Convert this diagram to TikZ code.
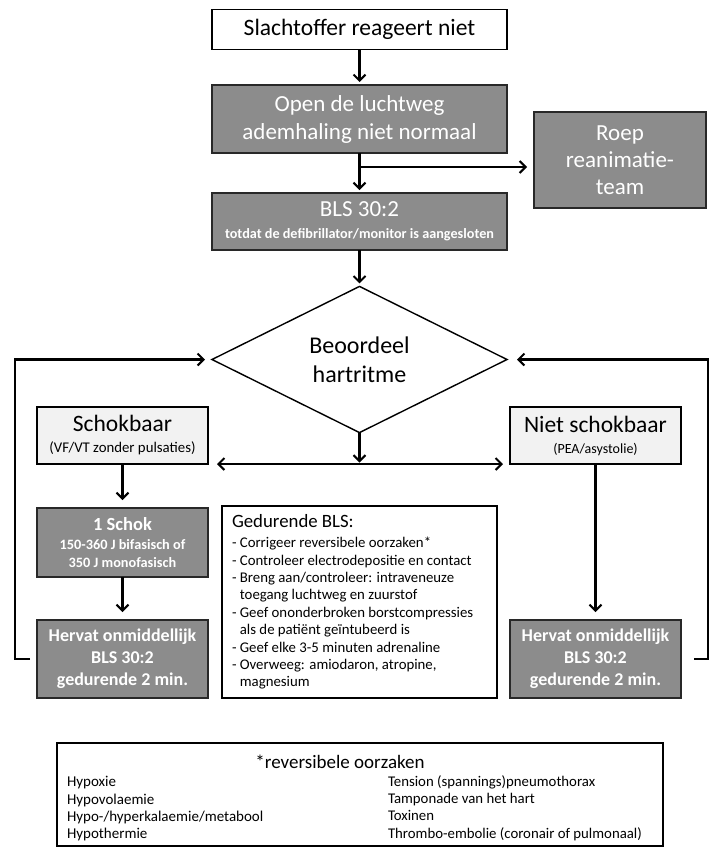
\documentclass[tikz,border=0pt]{standalone}
\usepackage{fontspec}
\setmainfont{Carlito}
\usetikzlibrary{arrows.meta,shapes.geometric,calc}
\definecolor{boxgray}{RGB}{140,140,140}
\definecolor{lightfill}{RGB}{242,242,242}
\definecolor{edgegray}{RGB}{40,40,40}
\newcommand\myfs[2]{\fontsize{#1}{#2}\selectfont}
\begin{document}
\begin{tikzpicture}[x=1pt,y=-1pt,
  every node/.style={inner sep=0pt, outer sep=0pt},
  graybox/.style={draw=edgegray, line width=1.4pt, fill=boxgray, text=white, align=center},
  whitebox/.style={draw=black, line width=1.4pt, fill=white, align=center},
  lightbox/.style={draw=black, line width=1.4pt, fill=lightfill, align=center},
  tip/.tip={Straight Barb[length=6pt,width=12pt,line width=2pt]},
  conn/.style={line width=2.3pt, -tip},
]
\useasboundingbox (0,0) rectangle (720,857);

\node[whitebox, minimum width=295pt, minimum height=40pt, font=\myfs{23.5}{28}] (victim) at (359.5,29.5) {Slachtoffer reageert niet};
\node[graybox, minimum width=295pt, minimum height=68pt, font=\myfs{23}{28}] (airway) at (359.5,119) {Open de luchtweg\\ademhaling niet normaal};
\node[graybox, minimum width=295pt, minimum height=57pt, font=\myfs{23}{22}] (bls) at (359.5,221.5) {BLS 30:2\\{\myfs{14.2}{16}\bfseries totdat de defibrillator/monitor is aangesloten}};
\node[graybox, minimum width=172pt, minimum height=96pt, font=\myfs{23}{27}] (team) at (620,160) {Roep\\reanimatie-\\team};

\node[draw=black, diamond, line width=1.4pt, minimum width=295pt, minimum height=135pt, align=center, font=\myfs{24}{29}] (rhythm) at (359.5,359.5) {Beoordeel\\hartritme};

\node[lightbox, minimum width=171pt, minimum height=57pt, font=\myfs{23.5}{21}] (shock) at (122.5,435.5) {Schokbaar\\{\myfs{14.8}{17}(VF/VT zonder pulsaties)}};
\node[lightbox, minimum width=171pt, minimum height=57pt, font=\myfs{23.5}{21}] (nonshock) at (595.5,435.5) {Niet schokbaar\\{\myfs{14}{17}(PEA/asystolie)}};

\node[graybox, minimum width=171pt, minimum height=69pt, font=\bfseries\myfs{18.5}{19}] (schok) at (122.5,542.5) {1 Schok\\{\myfs{14.3}{17.5}150-360 J bifasisch of}\\[-1.5pt]{\myfs{14.3}{17.5}350 J monofasisch}};
\node[graybox, minimum width=171pt, minimum height=78pt, font=\bfseries\myfs{18}{22}] (resumeL) at (122.5,659) {Hervat onmiddellijk\\BLS 30:2\\gedurende 2 min.};
\node[graybox, minimum width=171pt, minimum height=78pt, font=\bfseries\myfs{18}{22}] (resumeR) at (595.5,659) {Hervat onmiddellijk\\BLS 30:2\\gedurende 2 min.};

\node[whitebox, minimum width=275pt, minimum height=192pt] (during) at (359.5,602) {};
\node[anchor=west, align=left, font=\myfs{14.8}{17.4}] (duringtext) at ([xshift=10pt]during.west) {{\myfs{18.8}{20}Gedurende BLS:}\\[2.6pt]
- Corrigeer reversibele oorzaken*\\
- Controleer electrodepositie en contact\\
- Breng aan/controleer: intraveneuze\\
\hphantom{- }toegang luchtweg en zuurstof\\
- Geef ononderbroken borstcompressies\\
\hphantom{- }als de patiënt geïntubeerd is\\
- Geef elke 3-5 minuten adrenaline\\
- Overweeg: amiodaron, atropine,\\
\hphantom{- }magnesium};

\node[whitebox, minimum width=606pt, minimum height=103pt] (causes) at (360,794.5) {};
\node[font=\myfs{19}{20}] (causestitle) at (340,762) {*reversibele oorzaken};
\node[anchor=north west, align=left, font=\myfs{15}{17.3}] (causesL) at (67,776.5) {Hypoxie\\Hypovolaemie\\Hypo-/hyperkalaemie/metabool\\Hypothermie};
\node[anchor=north west, align=left, font=\myfs{14.8}{17.3}] (causesR) at (388,775.5) {Tension (spannings)pneumothorax\\Tamponade van het hart\\Toxinen\\Thrombo-embolie (coronair of pulmonaal)};

% connectors
\draw[conn, shorten >=3pt] (victim.south) -- (airway.north);
\draw[conn, shorten >=3pt] (airway.south) -- (bls.north);
\coordinate (branch) at ([yshift=-14pt]airway.south);
\draw[conn, shorten >=7pt] (branch) -- (branch -| team.west);
\draw[conn, shorten >=3pt] (bls.south) -- (rhythm.north);
\draw[conn, shorten >=1.5pt] (rhythm.south) -- (rhythm.south |- shock.south);
\draw[line width=2.3pt, tip-tip, shorten <=9pt, shorten >=7pt] (shock.south east) -- (nonshock.south west);
\draw[conn, shorten >=8pt] (shock.south) -- (schok.north);
\draw[conn, shorten >=8pt] (schok.south) -- (resumeL.north);
\draw[conn, shorten >=8pt] (nonshock.south) -- (resumeR.north);
\draw[conn, shorten >=7pt] ([xshift=-7pt]resumeL.west) -- ++(-15,0) |- (rhythm.west);
\draw[conn, shorten >=10pt] ([xshift=13pt]resumeR.east) -- ++(14,0) |- (rhythm.east);
\end{tikzpicture}
\end{document}
